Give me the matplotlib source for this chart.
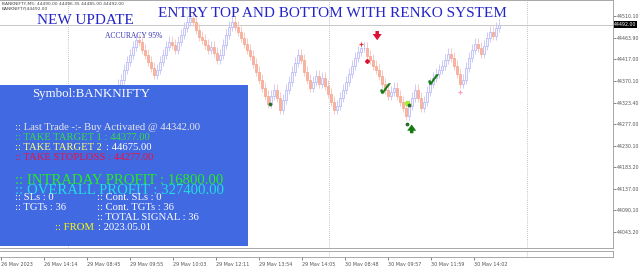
import matplotlib.pyplot as plt
from matplotlib.patches import Rectangle
import matplotlib.transforms as mtransforms
import numpy as np

# renko closes, one brick per entry (first open = first_open)
first_open = 44350
closes = [
    44361, 44372, 44394, 44411, 44426, 44443, 44458, 44454, 44437, 44426,
    44411, 44398, 44383, 44394, 44411, 44426, 44443, 44454, 44448, 44437,
    44454, 44469, 44484, 44497, 44506, 44497, 44480, 44465, 44458, 44448,
    44437, 44443, 44430, 44415, 44426, 44448, 44469, 44486, 44497, 44486,
    44476, 44463, 44450, 44437, 44424, 44406, 44389, 44372, 44355, 44337,
    44320, 44337, 44350, 44333, 44307, 44329, 44350, 44368, 44389, 44409,
    44426, 44415, 44389, 44372, 44355, 44368, 44381, 44363, 44376, 44359,
    44342, 44324, 44307, 44316, 44333, 44350, 44368, 44385, 44402, 44419,
    44432, 44441, 44441, 44424, 44415, 44402, 44393, 44381, 44363, 44350,
    44337, 44346, 44355, 44337, 44324, 44311, 44294, 44316, 44333, 44350,
    44333, 44311, 44324, 44346, 44363, 44376, 44385, 44394, 44402, 44415,
    44428, 44419, 44402, 44385, 44363, 44372, 44398, 44419, 44437, 44450,
    44441, 44428, 44445, 44463, 44476, 44467, 44484, 44492]
last_price = 44492.00

price_ticks = [44510.10, 44463.90, 44417.00, 44370.10, 44323.40, 44277.00,
               44230.10, 44183.20, 44137.00, 44090.10, 44043.20]
date_labels = ['26 May 2023', '26 May 14:14', '29 May 08:45', '29 May 09:55',
               '29 May 10:03', '29 May 12:11', '29 May 13:54', '29 May 14:05',
               '30 May 08:48', '30 May 09:57', '30 May 11:59', '30 May 14:02']

# signals (bar index, price)
check_x = [89, 105]
check_y = [44355, 44374]
down_arrow = (86.4, 44478, 44458)
up_arrow = (97.9, 44257, 44276)
red_plus = (81, 44449)
red_dot = (82.9, 44413)
pink_plus = (114, 44347)
green_dots_x = [50.7, 96.2, 97.1]
green_dots_y = [44321, 44278, 44318]
lime_dot = (96.2, 44323)

W, H = 640, 266
fig = plt.figure(figsize=(6.4, 2.66), dpi=100)
fig.patch.set_facecolor('white')

def fx(px):
    return px / W

def fy(py):
    return 1 - py / H

ax = fig.add_axes([0, fy(248), fx(613), 248 / H])
ax.set_xlim(-39.33, 165)
ax.set_ylim(44009, 44545)

opens = [first_open] + closes[:-1]
for i, (o, c) in enumerate(zip(opens, closes)):
    lo, hi = min(o, c), max(o, c)
    if c >= o:
        ec, fc, wc = '#b2b2f4', '#f6f6ff', '#c4c4f7'
    else:
        ec, fc, wc = '#f4a48c', '#f8b4a2', '#f7c0bc'
    ax.vlines(i, lo - 9, hi + 13, color=wc, lw=0.6, zorder=2)
    ax.bar(i, hi - lo, bottom=lo, width=0.7, color=fc, edgecolor=ec,
           linewidth=0.5, zorder=3)

ax.axhline(last_price, color='#c8c8c8', lw=0.7, zorder=1)
for sx in [-16.7, 70.3, 136.3]:
    ax.axvline(sx, color='#b0b0b0', ls=(0, (1, 1.5)), lw=0.6, zorder=1)

# signals
ax.scatter(check_x, check_y, marker='$\u2713$', s=55, color='#147a14',
           linewidths=0.3, zorder=5)
arrow_style = 'simple,head_width=1.3,head_length=0.9,tail_width=0.5'
ax.annotate('', xy=(down_arrow[0], down_arrow[2]), xytext=(down_arrow[0], down_arrow[1]),
            arrowprops=dict(arrowstyle=arrow_style, color='#dd1133', lw=0,
                            mutation_scale=5, shrinkA=0, shrinkB=0), zorder=5)
ax.annotate('', xy=(up_arrow[0], up_arrow[2]), xytext=(up_arrow[0], up_arrow[1]),
            arrowprops=dict(arrowstyle=arrow_style, color='#137a13', lw=0,
                            mutation_scale=5, shrinkA=0, shrinkB=0), zorder=5)
ax.plot(*red_plus, marker='+', color='#ee3333', ms=3, mew=0.8, zorder=5)
ax.plot(*red_dot, marker='D', color='#dd1133', ms=2, zorder=5)
ax.plot(*pink_plus, marker='+', color='#ff99bb', ms=3, mew=0.8, zorder=5)
ax.plot(*lime_dot, marker='o', color='#aaee33', ms=3, zorder=5)
ax.scatter(green_dots_x, green_dots_y, s=3, color='#2a6e2a', zorder=5)

# right price axis
ax.yaxis.tick_right()
ax.set_yticks(price_ticks)
ax.set_yticklabels(['%.2f' % p for p in price_ticks])
ax.tick_params(axis='y', labelsize=3.4, length=2, width=0.5, pad=0.8,
               colors='#555555')
ax.set_xticks([])
for s in ax.spines.values():
    s.set_color('#9a9a9a')
    s.set_linewidth(0.6)
ax.spines['left'].set_visible(False)
trans = mtransforms.blended_transform_factory(ax.transAxes, ax.transData)
ax.text(1.002, last_price, '%.2f' % last_price, transform=trans, ha='left',
        va='center', fontsize=3.4, color='white', clip_on=False,
        bbox=dict(facecolor='black', edgecolor='none', pad=0.4), zorder=6)

# small indicator window and time axis
ax2 = fig.add_axes([0, fy(257), fx(613), 6 / H])
ax2.set_xlim(-39.33, 165)
ax2.set_yticks([])
date_pos = (np.arange(len(date_labels)) * 43 + 1 - 118) / 3
ax2.set_xticks(date_pos)
ax2.set_xticklabels(date_labels, ha='left')
ax2.tick_params(axis='x', labelsize=3.5, length=2, width=0.5, pad=1.5,
                colors='#555555')
for s in ax2.spines.values():
    s.set_color('#9a9a9a')
    s.set_linewidth(0.6)
ax2.spines['left'].set_visible(False)
for sx in [70.3, 136.3]:
    ax2.axvline(sx, color='#b0b0b0', ls=(0, (1, 1.5)), lw=0.6)

# header texts
fig.text(fx(2), fy(4), 'BANKNIFTY,M5: 44490.00 44496.35 44485.00 44492.00',
         fontsize=3.2, color='#444444', va='center')
fig.text(fx(2), fy(9), 'BANKNIFTY|44492.00', fontsize=3.2, color='#444444',
         va='center')
serif = 'Liberation Serif'
fig.text(fx(37), fy(21), 'NEW UPDATE', family=serif, fontsize=11,
         color='#2424c8', va='center')
fig.text(fx(158), fy(14), 'ENTRY TOP AND BOTTOM WITH RENKO SYSTEM', family=serif,
         fontsize=11, color='#2424c8', va='center')
fig.text(fx(105), fy(36), 'ACCURACY 95%', family=serif, fontsize=5.5,
         color='#3535b5', va='center')

# info panel
fig.add_artist(Rectangle((0, fy(246)), fx(248), (246 - 85) / H,
                         transform=fig.transFigure, facecolor='#4169e1',
                         edgecolor='none', zorder=5))

def info(px, py, s, color, size=7.7):
    fig.text(fx(px), fy(py), s, family=serif, fontsize=size, color=color,
             va='center', zorder=6)

info(32, 94, 'Symbol:BANKNIFTY', 'white', 9.3)
info(15, 128, ':: Last Trade -:- Buy Activated @ 44342.00', '#e6e6e6')
info(15, 138, ':: TAKE TARGET 1 : 44377.00', '#33dd44')
info(15, 148, ':: TAKE TARGET 2', '#ffff77')
info(106, 148, ': 44675.00', 'white')
info(15, 158, ':: TAKE STOPLOSS : 44277.00', '#ee1144')
info(15, 180, ':: INTRADAY PROFIT : 16800.00', '#22ee22', 10.6)
info(15, 190, ':: OVERALL PROFIT : 327400.00', '#22dddd', 10.6)
info(15, 198, ':: SLs : 0', 'white')
info(97, 198, ':: Cont. SLs : 0', 'white')
info(15, 208, ':: TGTs : 36', 'white')
info(97, 208, ':: Cont. TGTs : 36', 'white')
info(97, 218, ':: TOTAL SIGNAL : 36', 'white')
info(55, 228, ':: FROM', '#ffff00')
info(98, 228, ': 2023.05.01', 'white')

plt.savefig('out.png', dpi=100)
